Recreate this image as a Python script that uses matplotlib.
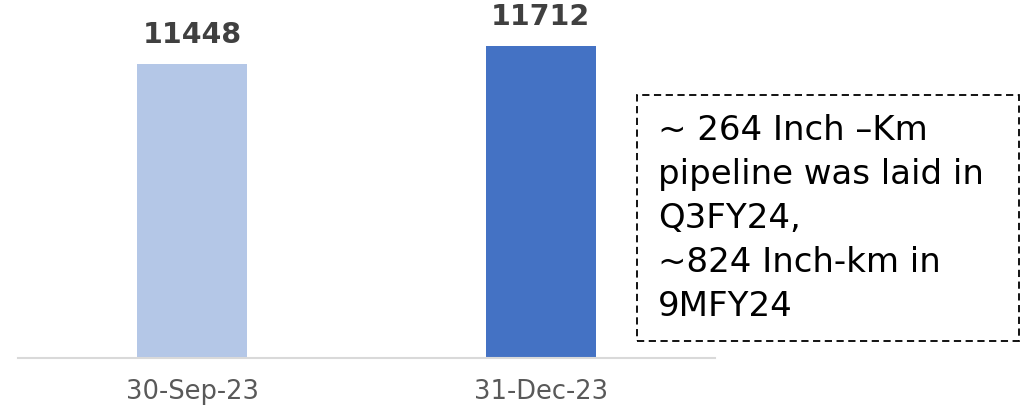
import matplotlib.pyplot as plt
from matplotlib.patches import Rectangle

dates = ["30-Sep-23", "31-Dec-23"]
lengths = [11448, 11712]
colors = ["#B4C7E7", "#4472C4"]
note_lines = [
    "~ 264 Inch \u2013Km",
    "pipeline was laid in",
    "Q3FY24,",
    "~824 Inch-km in",
    "9MFY24",
]

plt.rcParams['font.family'] = ['DejaVu Sans']

fig = plt.figure(figsize=(10.26, 4.09), dpi=100)
ax = fig.add_axes([18 / 1026, 51 / 409, 697 / 1026, 358 / 409])

x = range(len(dates))
bars = ax.bar(x, lengths, width=0.315, color=colors)
for b, v in zip(bars, lengths):
    ax.annotate(str(v), (b.get_x() + b.get_width() / 2, v),
                xytext=(0, 15), textcoords='offset points',
                ha='center', va='baseline', fontsize=20.5, fontweight='bold',
                color='#404040')

ax.set_xlim(-0.5, 1.5)
ax.set_ylim(7136, 12387)
ax.set_xticks(list(x))
ax.set_xticklabels(dates, fontsize=18.5, color='#595959')
ax.tick_params(axis='x', length=0, pad=15)
ax.set_yticks([])
for s in ['top', 'right', 'left']:
    ax.spines[s].set_visible(False)
ax.spines['bottom'].set_color('#D9D9D9')
ax.spines['bottom'].set_linewidth(1.5)

# dashed note box on the right
box = Rectangle((637 / 1026, 1 - 341 / 409), 382 / 1026, 246 / 409,
                transform=fig.transFigure, fill=False, edgecolor='black',
                linewidth=1.3, linestyle=(0, (4, 2.5)))
fig.patches.append(box)
for i, line in enumerate(note_lines):
    fig.text(658 / 1026, 1 - (140 + 44 * i) / 409, line, fontsize=24.5,
             color='black', va='baseline', ha='left')

fig.savefig("out.png", dpi=100)
